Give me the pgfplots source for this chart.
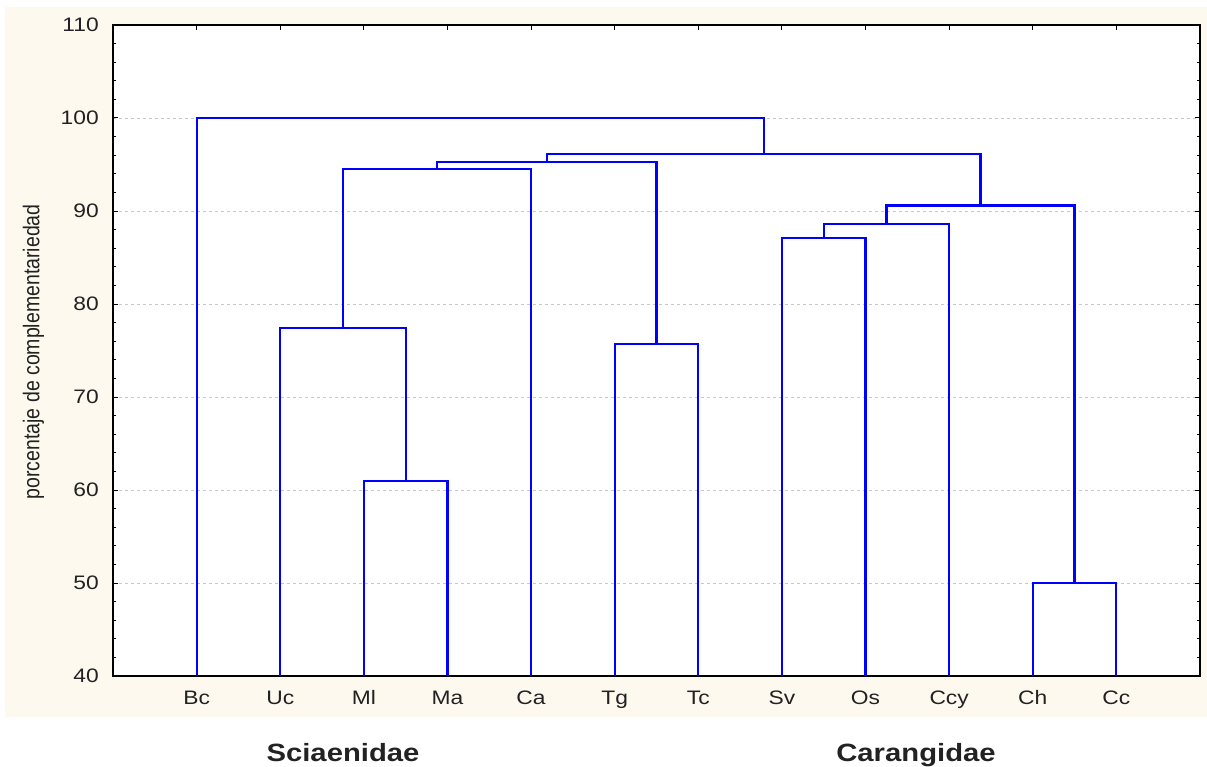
\documentclass[border=0pt]{standalone}
\usepackage{pgfplots}
\pgfplotsset{compat=1.18}
\usepackage{fontspec}
\setmainfont{Liberation Sans}
\definecolor{beige}{HTML}{FDF9EF}
\definecolor{gridgray}{HTML}{C8C8C8}
\definecolor{txt}{HTML}{222222}
\begin{document}
\begin{tikzpicture}[x=1pt,y=1pt]
\useasboundingbox (-113,-90) rectangle (1094,676);
\fill[beige] (-108,-41) rectangle (1094,669);
\begin{axis}[
  anchor=south west, at={(0,0)},
  scale only axis, width=1087pt, height=651pt,
  xmin=0, xmax=13, ymin=40, ymax=110,
  axis background/.style={fill=white},
  axis line style={black, line width=1.6pt},
  xtick={1,2,3,4,5,6,7,8,9,10,11,12},
  xticklabels={Bc,Uc,Ml,Ma,Ca,Tg,Tc,Sv,Os,Ccy,Ch,Cc},
  ytick={40,50,60,70,80,90,100,110},
  minor y tick num=4,
  tick align=inside,
  major tick length=5pt, minor tick length=3pt,
  tick style={black, line width=1pt},
  ymajorgrids,
  major grid style={gridgray, dashed, line width=0.7pt},
  /pgf/number format/assume math mode=true,
  ticklabel style={font=\fontsize{19.5}{22}\selectfont, text=txt, xscale=1.17},
  yticklabel style={anchor=east, inner xsep=0pt, xshift=-12pt},
  xticklabel style={anchor=base, inner ysep=0pt, yshift=-28pt},
  ylabel={\scalebox{1}[1.17]{porcentaje de complementariedad}},
  ylabel style={font=\fontsize{19.5}{22}\selectfont, text=txt, at={(axis description cs:-0.0731,0.498)}, anchor=center, rotate=0},
  clip=false,
]
% Sciaenidae
\addplot[blue, line width=2.2pt, solid, mark=none] coordinates {(3,40) (3,61.0) (4,61.0) (4,40)};
\addplot[blue, line width=2.2pt, solid, mark=none] coordinates {(2,40) (2,77.4) (3.5,77.4) (3.5,61.0)};
\addplot[blue, line width=2.2pt, solid, mark=none] coordinates {(2.75,77.4) (2.75,94.5) (5,94.5) (5,40)};
\addplot[blue, line width=2.2pt, solid, mark=none] coordinates {(6,40) (6,75.7) (7,75.7) (7,40)};
\addplot[blue, line width=2.2pt, solid, mark=none] coordinates {(3.875,94.5) (3.875,95.3) (6.5,95.3) (6.5,75.7)};
% Carangidae
\addplot[blue, line width=2.2pt, solid, mark=none] coordinates {(8,40) (8,87.1) (9,87.1) (9,40)};
\addplot[blue, line width=2.2pt, solid, mark=none] coordinates {(8.5,87.1) (8.5,88.6) (10,88.6) (10,40)};
\addplot[blue, line width=2.2pt, solid, mark=none] coordinates {(11,40) (11,50.0) (12,50.0) (12,40)};
\addplot[blue, line width=2.2pt, solid, mark=none] coordinates {(9.25,88.6) (9.25,90.6) (11.5,90.6) (11.5,50.0)};
% joins
\addplot[blue, line width=2.2pt, solid, mark=none] coordinates {(5.1875,95.3) (5.1875,96.1) (10.375,96.1) (10.375,90.6)};
\addplot[blue, line width=2.2pt, solid, mark=none] coordinates {(1,40) (1,100) (7.78125,100) (7.78125,96.1)};
\end{axis}
\node[font=\bfseries\fontsize{25}{28}\selectfont, text=txt, anchor=base, xscale=1.17] at (230,-85) {Sciaenidae};
\node[font=\bfseries\fontsize{25}{28}\selectfont, text=txt, anchor=base, xscale=1.17] at (803,-85) {Carangidae};
\end{tikzpicture}
\end{document}
